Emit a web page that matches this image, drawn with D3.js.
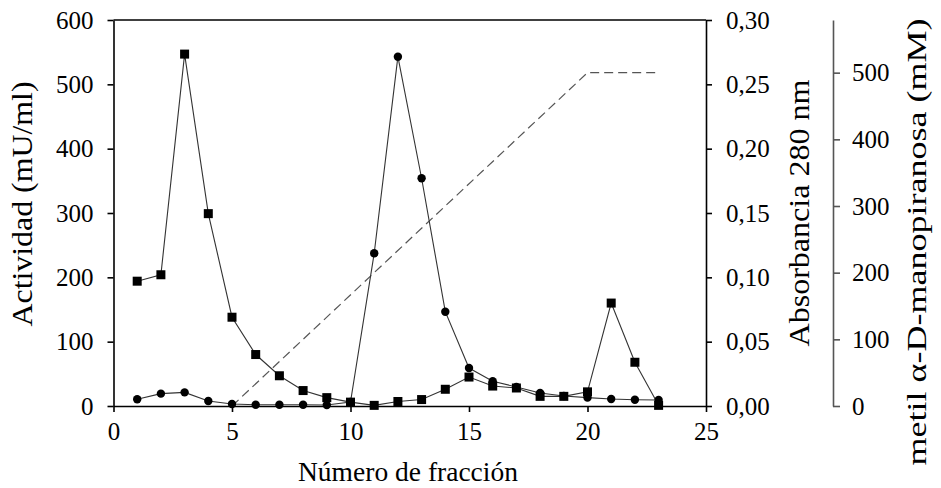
<!DOCTYPE html>
<html><head><meta charset="utf-8">
<script src="https://cdn.jsdelivr.net/npm/d3@7"></script>
<style>body{margin:0;background:#fff}svg{display:block}svg text{font-family:"Liberation Serif",serif !important;fill:#000}</style>
</head><body>
<script>
const fractions = [1,2,3,4,5,6,7,8,9,10,11,12,13,14,15,16,17,18,19,20,21,22,23];
const actividad = [194,204,547,299,138,80,47,24,13,6,1,7,10,26,45,31,28,15,15,22,160,68,1];
const absorbancia = [0.0052,0.0096,0.0106,0.0039,0.0016,0.0010,0.0010,0.0010,0.0008,0.0031,0.1187,0.2715,0.1770,0.0733,0.0295,0.0192,0.0148,0.0101,0.0078,0.0065,0.0054,0.0049,0.0047];
const gradFrac = [5,20,23];
const gradConc = [0,500,500];
const xTicks = [0,5,10,15,20,25];
const yLeftTicks = [0,100,200,300,400,500,600];
const yRightTicks = [0,0.05,0.10,0.15,0.20,0.25,0.30];
const yThirdTicks = [0,100,200,300,400,500];

const W=941,H=488;
const svg=d3.select("body").append("svg").attr("width",W).attr("height",H).attr("font-family","Liberation Serif");
const x=d3.scaleLinear().domain([0,25]).range([113.5,706]);
const yL=d3.scaleLinear().domain([0,600]).range([406,20]);
const yR=d3.scaleLinear().domain([0,0.30]).range([406,20]);
const y3=d3.scaleLinear().domain([0,579]).range([406,20]);
const fmtR=v=>d3.format(".2f")(v).replace(".",",");

function styleAxis(g,color){
  g.attr("font-family","Liberation Serif").attr("font-size",25);
  g.select(".domain").attr("stroke",color).attr("stroke-width",1.6);
  g.selectAll(".tick line").attr("stroke",color).attr("stroke-width",1.6);
  g.selectAll(".tick text").attr("font-size",25).attr("font-family","Liberation Serif").attr("fill","#000");
}
// top border
svg.append("line").attr("x1",x(0)).attr("x2",x(25)).attr("y1",20).attr("y2",20).attr("stroke","#000").attr("stroke-width",1.6);

const gx=svg.append("g").attr("transform","translate(0,406)").call(d3.axisBottom(x).tickValues(xTicks).tickSizeInner(6).tickSizeOuter(0).tickPadding(10));
styleAxis(gx,"#000");
const gl=svg.append("g").attr("transform",`translate(${x(0)},0)`).call(d3.axisLeft(yL).tickValues(yLeftTicks).tickSizeInner(6).tickSizeOuter(0).tickPadding(14));
styleAxis(gl,"#000");
const gr=svg.append("g").attr("transform",`translate(${x(25)},0)`).call(d3.axisRight(yR).tickValues(yRightTicks).tickFormat(fmtR).tickSizeInner(6).tickSizeOuter(0).tickPadding(14));
styleAxis(gr,"#000");
const g3=svg.append("g").attr("transform","translate(833,0)").call(d3.axisRight(y3).tickValues(yThirdTicks).tickSizeInner(7).tickSizeOuter(0).tickPadding(12));
styleAxis(g3,"#555");

// gradient dashed line
const gradData=gradFrac.map((f,i)=>({f,v:gradConc[i]}));
svg.append("path").datum(gradData).attr("fill","none").attr("stroke","#555").attr("stroke-width",1.2)
  .attr("stroke-dasharray","9,5")
  .attr("d",d3.line().x(d=>x(d.f)).y(d=>y3(d.v)));

// series
const act=fractions.map((f,i)=>({f,v:actividad[i]}));
const abs=fractions.map((f,i)=>({f,v:absorbancia[i]}));
svg.append("path").datum(abs).attr("fill","none").attr("stroke","#333").attr("stroke-width",1.1)
  .attr("d",d3.line().x(d=>x(d.f)).y(d=>yR(d.v)));
svg.append("path").datum(act).attr("fill","none").attr("stroke","#333").attr("stroke-width",1.1)
  .attr("d",d3.line().x(d=>x(d.f)).y(d=>yL(d.v)));
svg.selectAll("circle.abs").data(abs).enter().append("circle").attr("class","abs")
  .attr("cx",d=>x(d.f)).attr("cy",d=>yR(d.v)).attr("r",4.2).attr("fill","#000");
const s=9;
svg.selectAll("rect.act").data(act).enter().append("rect").attr("class","act")
  .attr("x",d=>x(d.f)-s/2).attr("y",d=>yL(d.v)-s/2).attr("width",s).attr("height",s).attr("fill","#000");

// titles
svg.append("text").attr("x",408).attr("y",481).attr("text-anchor","middle").attr("font-size",27)
  .attr("textLength",220).attr("lengthAdjust","spacingAndGlyphs").text("Número de fracción");
svg.append("text").attr("transform","translate(32,204) rotate(-90)").attr("text-anchor","middle").attr("font-size",29)
  .attr("textLength",245).attr("lengthAdjust","spacingAndGlyphs").text("Actividad (mU/ml)");
svg.append("text").attr("transform","translate(809,213) rotate(-90)").attr("text-anchor","middle").attr("font-size",30)
  .attr("textLength",267).attr("lengthAdjust","spacingAndGlyphs").text("Absorbancia 280 nm");
svg.append("text").attr("transform","translate(926,242) rotate(-90)").attr("text-anchor","middle").attr("font-size",28)
  .attr("textLength",447).attr("lengthAdjust","spacingAndGlyphs").text("metil α-D-manopiranosa (mM)");
</script>
</body></html>
